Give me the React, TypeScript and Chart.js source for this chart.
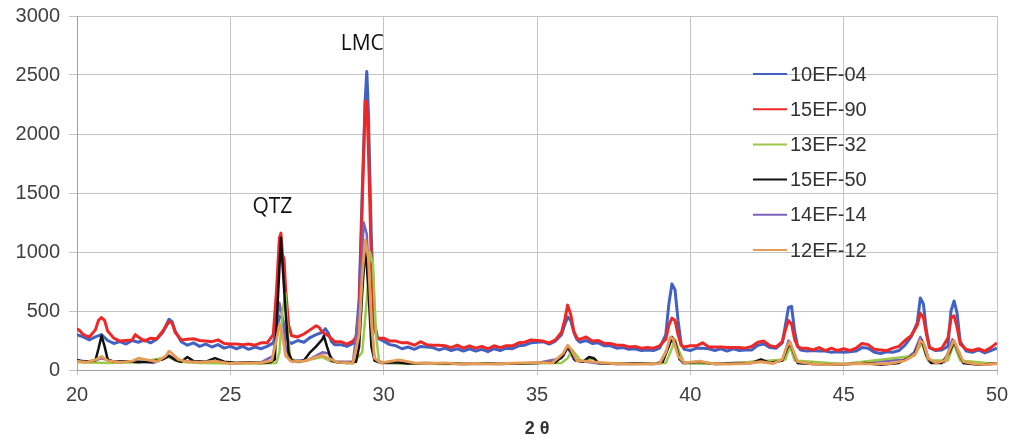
import React, { useEffect, useRef } from "react";
import { Chart, registerables } from "chart.js";

Chart.register(...registerables);

const seriesNames = ["10EF-04", "15EF-90", "13EF-32", "15EF-50", "14EF-14", "12EF-12"];
const seriesColors = ["#4262c2", "#ee2826", "#9cc84c", "#111111", "#7c64ba", "#e69c56"];
const seriesWidths = [3, 3, 2.5, 2.5, 2.5, 2.8];
const seriesOrder = [6, 5, 3, 2, 4, 1];

const xMin = 20;
const xMax = 50;
const xStep = 5;
const yMin = 0;
const yMax = 3000;
const yStep = 500;

const annotations = [
  { text: "QTZ", x: 25.72, y: 1380 },
  { text: "LMC", x: 28.6, y: 2760 },
];

const s10EF04: [number, number][] = [
  [20.0, 300], [20.2, 280], [20.4, 255], [20.6, 280], [20.8, 300], [21.0, 250], [21.2, 225], [21.4, 240], [21.6, 220],
  [21.8, 250], [22.0, 235], [22.2, 255], [22.4, 230], [22.6, 260], [22.8, 320], [23.0, 430], [23.1, 410], [23.2, 330],
  [23.4, 240], [23.6, 210], [23.8, 230], [24.0, 200], [24.2, 220], [24.4, 195], [24.6, 215], [24.8, 185], [25.0, 200],
  [25.2, 180], [25.4, 200], [25.6, 175], [25.8, 195], [26.0, 180], [26.2, 200], [26.4, 230], [26.5, 330], [26.6, 455],
  [26.7, 440], [26.8, 300], [26.9, 240], [27.0, 225], [27.2, 250], [27.4, 235], [27.6, 275], [27.8, 300], [28.0, 320],
  [28.1, 350], [28.2, 310], [28.3, 240], [28.4, 215], [28.6, 215], [28.8, 200], [29.0, 225], [29.1, 270], [29.2, 600],
  [29.3, 1500], [29.4, 2300], [29.45, 2530], [29.5, 2200], [29.6, 1100], [29.7, 400], [29.8, 270], [30.0, 245],
  [30.2, 215], [30.4, 205], [30.6, 180], [30.8, 195], [31.0, 175], [31.2, 200], [31.4, 195], [31.6, 190], [31.8, 170],
  [32.0, 185], [32.2, 165], [32.4, 180], [32.6, 160], [32.8, 180], [33.0, 160], [33.2, 175], [33.4, 155], [33.6, 180],
  [33.8, 165], [34.0, 185], [34.2, 180], [34.4, 205], [34.6, 210], [34.8, 230], [35.0, 235], [35.2, 240], [35.4, 220],
  [35.6, 245], [35.8, 300], [35.9, 380], [36.0, 450], [36.1, 420], [36.2, 320], [36.3, 260], [36.4, 235], [36.6, 250],
  [36.8, 225], [37.0, 230], [37.2, 205], [37.4, 205], [37.6, 185], [37.8, 190], [38.0, 175], [38.2, 180], [38.4, 165],
  [38.6, 170], [38.8, 165], [39.0, 185], [39.2, 300], [39.3, 560], [39.4, 730], [39.5, 680], [39.6, 420], [39.7, 220],
  [39.8, 175], [40.0, 165], [40.2, 185], [40.4, 185], [40.6, 180], [40.8, 165], [41.0, 180], [41.2, 160], [41.4, 180],
  [41.6, 165], [41.8, 170], [42.0, 170], [42.2, 210], [42.4, 220], [42.6, 190], [42.8, 185], [43.0, 230], [43.1, 380],
  [43.2, 530], [43.3, 540], [43.4, 330], [43.5, 200], [43.6, 170], [43.8, 160], [44.0, 165], [44.2, 160], [44.4, 160],
  [44.6, 150], [44.8, 155], [45.0, 150], [45.2, 155], [45.4, 160], [45.6, 190], [45.8, 185], [46.0, 150], [46.2, 140],
  [46.4, 155], [46.6, 150], [46.8, 165], [47.0, 210], [47.2, 280], [47.4, 400], [47.5, 610], [47.6, 560], [47.7, 330],
  [47.8, 190], [48.0, 165], [48.2, 170], [48.4, 200], [48.5, 500], [48.6, 585], [48.7, 480], [48.8, 240], [49.0, 160],
  [49.2, 150], [49.4, 170], [49.6, 145], [49.8, 165], [50.0, 185],
];

const s15EF90: [number, number][] = [
  [20.0, 350], [20.1, 330], [20.2, 300], [20.4, 280], [20.6, 340], [20.7, 420], [20.8, 445], [20.9, 420], [21.0, 330],
  [21.2, 270], [21.4, 245], [21.6, 250], [21.8, 255], [21.9, 300], [22.0, 280], [22.2, 245], [22.4, 270], [22.6, 265],
  [22.8, 330], [23.0, 410], [23.1, 400], [23.2, 320], [23.4, 255], [23.6, 260], [23.8, 265], [24.0, 250], [24.2, 245],
  [24.4, 240], [24.6, 255], [24.8, 225], [25.0, 220], [25.2, 220], [25.4, 215], [25.6, 220], [25.8, 210], [26.0, 230],
  [26.2, 230], [26.4, 300], [26.5, 650], [26.6, 1120], [26.65, 1160], [26.7, 980], [26.75, 940], [26.8, 700],
  [26.9, 380], [27.0, 290], [27.2, 280], [27.4, 305], [27.6, 340], [27.8, 375], [27.9, 360], [28.0, 320], [28.2, 290],
  [28.4, 240], [28.6, 240], [28.8, 220], [29.0, 245], [29.1, 280], [29.2, 500], [29.3, 1400], [29.4, 2280],
  [29.45, 2270], [29.5, 1900], [29.6, 900], [29.7, 350], [29.8, 270], [30.0, 270], [30.2, 245], [30.4, 245],
  [30.6, 230], [30.8, 230], [31.0, 210], [31.2, 240], [31.4, 215], [31.6, 210], [31.8, 210], [32.0, 205], [32.2, 190],
  [32.4, 210], [32.6, 185], [32.8, 205], [33.0, 185], [33.2, 200], [33.4, 180], [33.6, 205], [33.8, 190], [34.0, 205],
  [34.2, 205], [34.4, 230], [34.6, 235], [34.8, 255], [35.0, 250], [35.2, 245], [35.4, 230], [35.6, 255], [35.8, 320],
  [35.9, 420], [36.0, 550], [36.1, 470], [36.2, 330], [36.3, 270], [36.4, 260], [36.6, 280], [36.8, 245], [37.0, 250],
  [37.2, 225], [37.4, 225], [37.6, 210], [37.8, 210], [38.0, 195], [38.2, 200], [38.4, 185], [38.6, 190], [38.8, 185],
  [39.0, 205], [39.2, 260], [39.3, 380], [39.4, 440], [39.5, 420], [39.6, 300], [39.7, 210], [39.8, 195], [40.0, 205],
  [40.2, 205], [40.4, 230], [40.6, 195], [40.8, 195], [41.0, 195], [41.2, 190], [41.4, 190], [41.6, 190], [41.8, 185],
  [42.0, 200], [42.2, 235], [42.4, 245], [42.6, 205], [42.8, 195], [43.0, 240], [43.1, 340], [43.2, 420], [43.3, 390],
  [43.4, 260], [43.5, 200], [43.6, 185], [43.8, 185], [44.0, 170], [44.2, 190], [44.4, 165], [44.6, 185], [44.8, 165],
  [45.0, 180], [45.2, 165], [45.4, 185], [45.6, 225], [45.8, 215], [46.0, 175], [46.2, 170], [46.4, 165], [46.6, 185],
  [46.8, 200], [47.0, 250], [47.2, 290], [47.4, 380], [47.5, 480], [47.6, 450], [47.7, 300], [47.8, 190], [48.0, 170],
  [48.2, 185], [48.4, 270], [48.5, 440], [48.6, 460], [48.7, 360], [48.8, 220], [49.0, 175], [49.2, 165], [49.4, 180],
  [49.6, 160], [49.8, 190], [50.0, 230],
];

const s13EF32: [number, number][] = [
  [20.0, 65], [21.0, 60], [22.0, 65], [23.0, 110], [23.3, 70], [24.0, 60], [25.0, 55], [26.0, 55], [26.5, 60],
  [26.6, 150], [26.7, 500], [26.8, 650], [26.85, 400], [26.95, 100], [27.2, 65], [28.0, 110], [28.3, 70], [29.0, 55],
  [29.3, 150], [29.45, 600], [29.55, 1000], [29.65, 900], [29.75, 300], [29.85, 70], [30.5, 55], [32.0, 50],
  [34.0, 55], [35.8, 60], [36.0, 100], [36.15, 170], [36.3, 120], [36.45, 70], [36.7, 90], [36.85, 100], [37.0, 60],
  [38.0, 50], [39.2, 60], [39.35, 150], [39.5, 260], [39.65, 150], [39.8, 60], [41.0, 50], [43.1, 90], [43.25, 200],
  [43.4, 80], [45.0, 50], [47.3, 120], [47.55, 230], [47.75, 80], [48.4, 80], [48.6, 230], [48.8, 80], [50.0, 50],
];

const s15EF50: [number, number][] = [
  [20.0, 85], [20.2, 70], [20.4, 75], [20.6, 80], [20.7, 180], [20.8, 290], [20.9, 200], [21.0, 90], [21.2, 70],
  [21.6, 75], [22.0, 65], [22.4, 70], [22.8, 90], [23.0, 120], [23.2, 85], [23.4, 70], [23.6, 110], [23.8, 75],
  [24.2, 70], [24.5, 100], [24.8, 70], [25.2, 60], [25.6, 65], [26.0, 60], [26.3, 65], [26.45, 90], [26.55, 600],
  [26.65, 1120], [26.7, 900], [26.8, 500], [26.9, 150], [27.0, 80], [27.2, 70], [27.4, 80], [27.6, 150], [27.8, 200],
  [28.0, 260], [28.05, 290], [28.15, 200], [28.3, 80], [28.5, 65], [28.8, 60], [29.1, 70], [29.2, 200], [29.3, 650],
  [29.4, 1050], [29.5, 700], [29.6, 200], [29.7, 80], [29.9, 60], [30.4, 65], [30.8, 55], [31.4, 60], [32.0, 55],
  [32.6, 50], [33.2, 55], [33.8, 50], [34.4, 55], [35.0, 60], [35.6, 65], [35.85, 120], [36.0, 195], [36.1, 160],
  [36.25, 80], [36.5, 70], [36.7, 110], [36.85, 100], [37.0, 60], [37.6, 50], [38.2, 55], [38.8, 50], [39.1, 70],
  [39.3, 200], [39.4, 280], [39.5, 240], [39.65, 90], [39.8, 60], [40.3, 70], [40.8, 50], [41.4, 55], [42.0, 60],
  [42.3, 90], [42.6, 60], [43.0, 80], [43.15, 180], [43.25, 230], [43.35, 160], [43.5, 60], [44.0, 50], [44.6, 45],
  [45.2, 50], [45.7, 60], [46.2, 45], [46.8, 60], [47.1, 100], [47.3, 130], [47.45, 220], [47.55, 250], [47.7, 120],
  [47.85, 60], [48.2, 60], [48.45, 150], [48.6, 240], [48.75, 150], [48.9, 60], [49.4, 45], [50.0, 55],
];

const s14EF14: [number, number][] = [
  [20.0, 80], [20.5, 70], [20.8, 100], [21.2, 70], [22.0, 75], [22.5, 60], [23.0, 120], [23.4, 75], [24.0, 70],
  [25.0, 60], [26.0, 65], [26.4, 120], [26.5, 350], [26.6, 570], [26.7, 450], [26.8, 200], [26.95, 80], [27.5, 80],
  [28.0, 150], [28.2, 140], [28.4, 70], [29.0, 70], [29.2, 500], [29.35, 1250], [29.45, 1150], [29.55, 600],
  [29.7, 90], [30.0, 60], [31.0, 55], [32.0, 55], [33.0, 50], [34.0, 55], [35.0, 60], [35.8, 100], [36.0, 190],
  [36.2, 90], [36.6, 70], [37.0, 55], [38.0, 50], [39.0, 55], [39.25, 180], [39.4, 260], [39.55, 170], [39.75, 60],
  [41.0, 55], [42.3, 70], [43.0, 80], [43.2, 250], [43.35, 150], [43.5, 60], [45.0, 50], [47.0, 90], [47.3, 150],
  [47.5, 280], [47.65, 200], [47.8, 70], [48.3, 70], [48.55, 260], [48.75, 120], [48.9, 60], [50.0, 55],
];

const s12EF12: [number, number][] = [
  [20.0, 75], [20.3, 65], [20.6, 85], [20.8, 115], [21.0, 80], [21.4, 65], [21.8, 75], [22.0, 100], [22.2, 90],
  [22.6, 70], [22.9, 120], [23.0, 160], [23.1, 140], [23.3, 90], [23.6, 70], [24.0, 65], [24.5, 75], [25.0, 55],
  [25.5, 60], [26.0, 60], [26.35, 80], [26.5, 250], [26.6, 380], [26.7, 300], [26.8, 120], [27.0, 70], [27.4, 75],
  [27.8, 110], [28.0, 125], [28.2, 100], [28.5, 65], [29.0, 60], [29.2, 300], [29.3, 800], [29.4, 1100], [29.5, 950],
  [29.6, 400], [29.7, 100], [29.9, 60], [30.5, 85], [31.0, 60], [31.5, 55], [32.0, 60], [32.5, 50], [33.0, 55],
  [33.5, 50], [34.0, 55], [34.5, 60], [35.0, 65], [35.5, 60], [35.85, 140], [36.0, 210], [36.1, 180], [36.3, 80],
  [36.6, 75], [37.0, 65], [37.5, 55], [38.0, 50], [38.5, 50], [39.0, 55], [39.2, 150], [39.35, 280], [39.45, 260],
  [39.6, 120], [39.8, 60], [40.3, 75], [40.7, 55], [41.2, 50], [41.8, 55], [42.3, 70], [42.7, 55], [43.0, 90],
  [43.15, 200], [43.25, 240], [43.35, 170], [43.5, 70], [44.0, 50], [44.5, 45], [45.0, 50], [45.5, 55], [46.0, 50],
  [46.5, 55], [47.0, 80], [47.2, 110], [47.35, 140], [47.5, 250], [47.6, 230], [47.75, 100], [48.0, 60], [48.3, 80],
  [48.5, 200], [48.6, 250], [48.7, 190], [48.9, 70], [49.3, 50], [49.7, 45], [50.0, 55],
];

const seriesData = [s10EF04, s15EF90, s13EF32, s15EF50, s14EF14, s12EF12];

const overlayPlugin = {
  id: "overlay",
  afterDraw(chart: any) {
    const ctx = chart.ctx;
    const xs = chart.scales.x;
    const ys = chart.scales.y;
    ctx.save();
    ctx.font = "21px 'Open Sans'";
    ctx.fillStyle = "#111";
    ctx.textAlign = "left";
    ctx.textBaseline = "middle";
    annotations.forEach((a) => {
      ctx.fillText(a.text, xs.getPixelForValue(a.x), ys.getPixelForValue(a.y));
    });
    const area = chart.chartArea;
    const lx0 = area.left + 676;
    const lx1 = lx0 + 34;
    const ly0 = area.top + 58;
    const lyStep = 35.2;
    ctx.font = "20px 'Liberation Sans'";
    ctx.fillStyle = "#333";
    seriesNames.forEach((name, i) => {
      const y = ly0 + i * lyStep;
      ctx.strokeStyle = seriesColors[i];
      ctx.lineWidth = 2;
      ctx.beginPath();
      ctx.moveTo(lx0, y);
      ctx.lineTo(lx1, y);
      ctx.stroke();
      ctx.fillText(name, lx1 + 3, y + 1);
    });
    ctx.restore();
  },
};

export default function App() {
  const canvasRef = useRef<HTMLCanvasElement | null>(null);

  useEffect(() => {
    if (!canvasRef.current) return;
    const chart = new Chart(canvasRef.current, {
      type: "line",
      data: {
        datasets: seriesData.map((pts, i) => ({
          label: seriesNames[i],
          data: pts.map(([x, y]) => ({ x, y })),
          borderColor: seriesColors[i],
          backgroundColor: seriesColors[i],
          borderWidth: seriesWidths[i],
          pointRadius: 0,
          tension: 0,
          order: seriesOrder[i],
          borderJoinStyle: "round" as const,
        })),
      },
      options: {
        animation: false,
        responsive: false,
        devicePixelRatio: 1,
        layout: { padding: { top: 16, right: 16, left: 0, bottom: 0 } },
        plugins: { legend: { display: false }, tooltip: { enabled: false } },
        scales: {
          x: {
            type: "linear",
            min: xMin,
            max: xMax,
            ticks: {
              stepSize: xStep,
              color: "#404040",
              font: { family: "'Liberation Sans'", size: 20 },
              padding: 8,
              callback: (v: any) => String(v),
            },
            grid: { color: "#c4c4c4", lineWidth: 1, tickLength: 5 },
            border: { color: "#a0a0a0" },
            title: {
              display: true,
              text: "2 θ",
              color: "#333",
              font: { family: "'Liberation Sans'", size: 18, weight: "bold" },
              padding: { top: 0, bottom: -3 },
            },
            afterFit: (scale: any) => {
              scale.height = 67;
              scale.paddingLeft = 0;
              scale.paddingRight = 0;
            },
          },
          y: {
            min: yMin,
            max: yMax,
            ticks: {
              stepSize: yStep,
              color: "#404040",
              font: { family: "'Liberation Sans'", size: 20 },
              padding: 9,
              callback: (v: any) => String(v),
            },
            grid: { color: "#c4c4c4", lineWidth: 1, tickLength: 8 },
            border: { color: "#a0a0a0" },
            afterFit: (scale: any) => {
              scale.width = 77;
              scale.paddingTop = 0;
              scale.paddingBottom = 0;
            },
          },
        },
      },
      plugins: [overlayPlugin],
    });
    return () => chart.destroy();
  }, []);

  return (
    <div style={{ position: "fixed", left: 0, top: 0, width: 1013, height: 437, background: "#fff" }}>
      <canvas ref={canvasRef} width={1013} height={437} style={{ display: "block" }} />
    </div>
  );
}
